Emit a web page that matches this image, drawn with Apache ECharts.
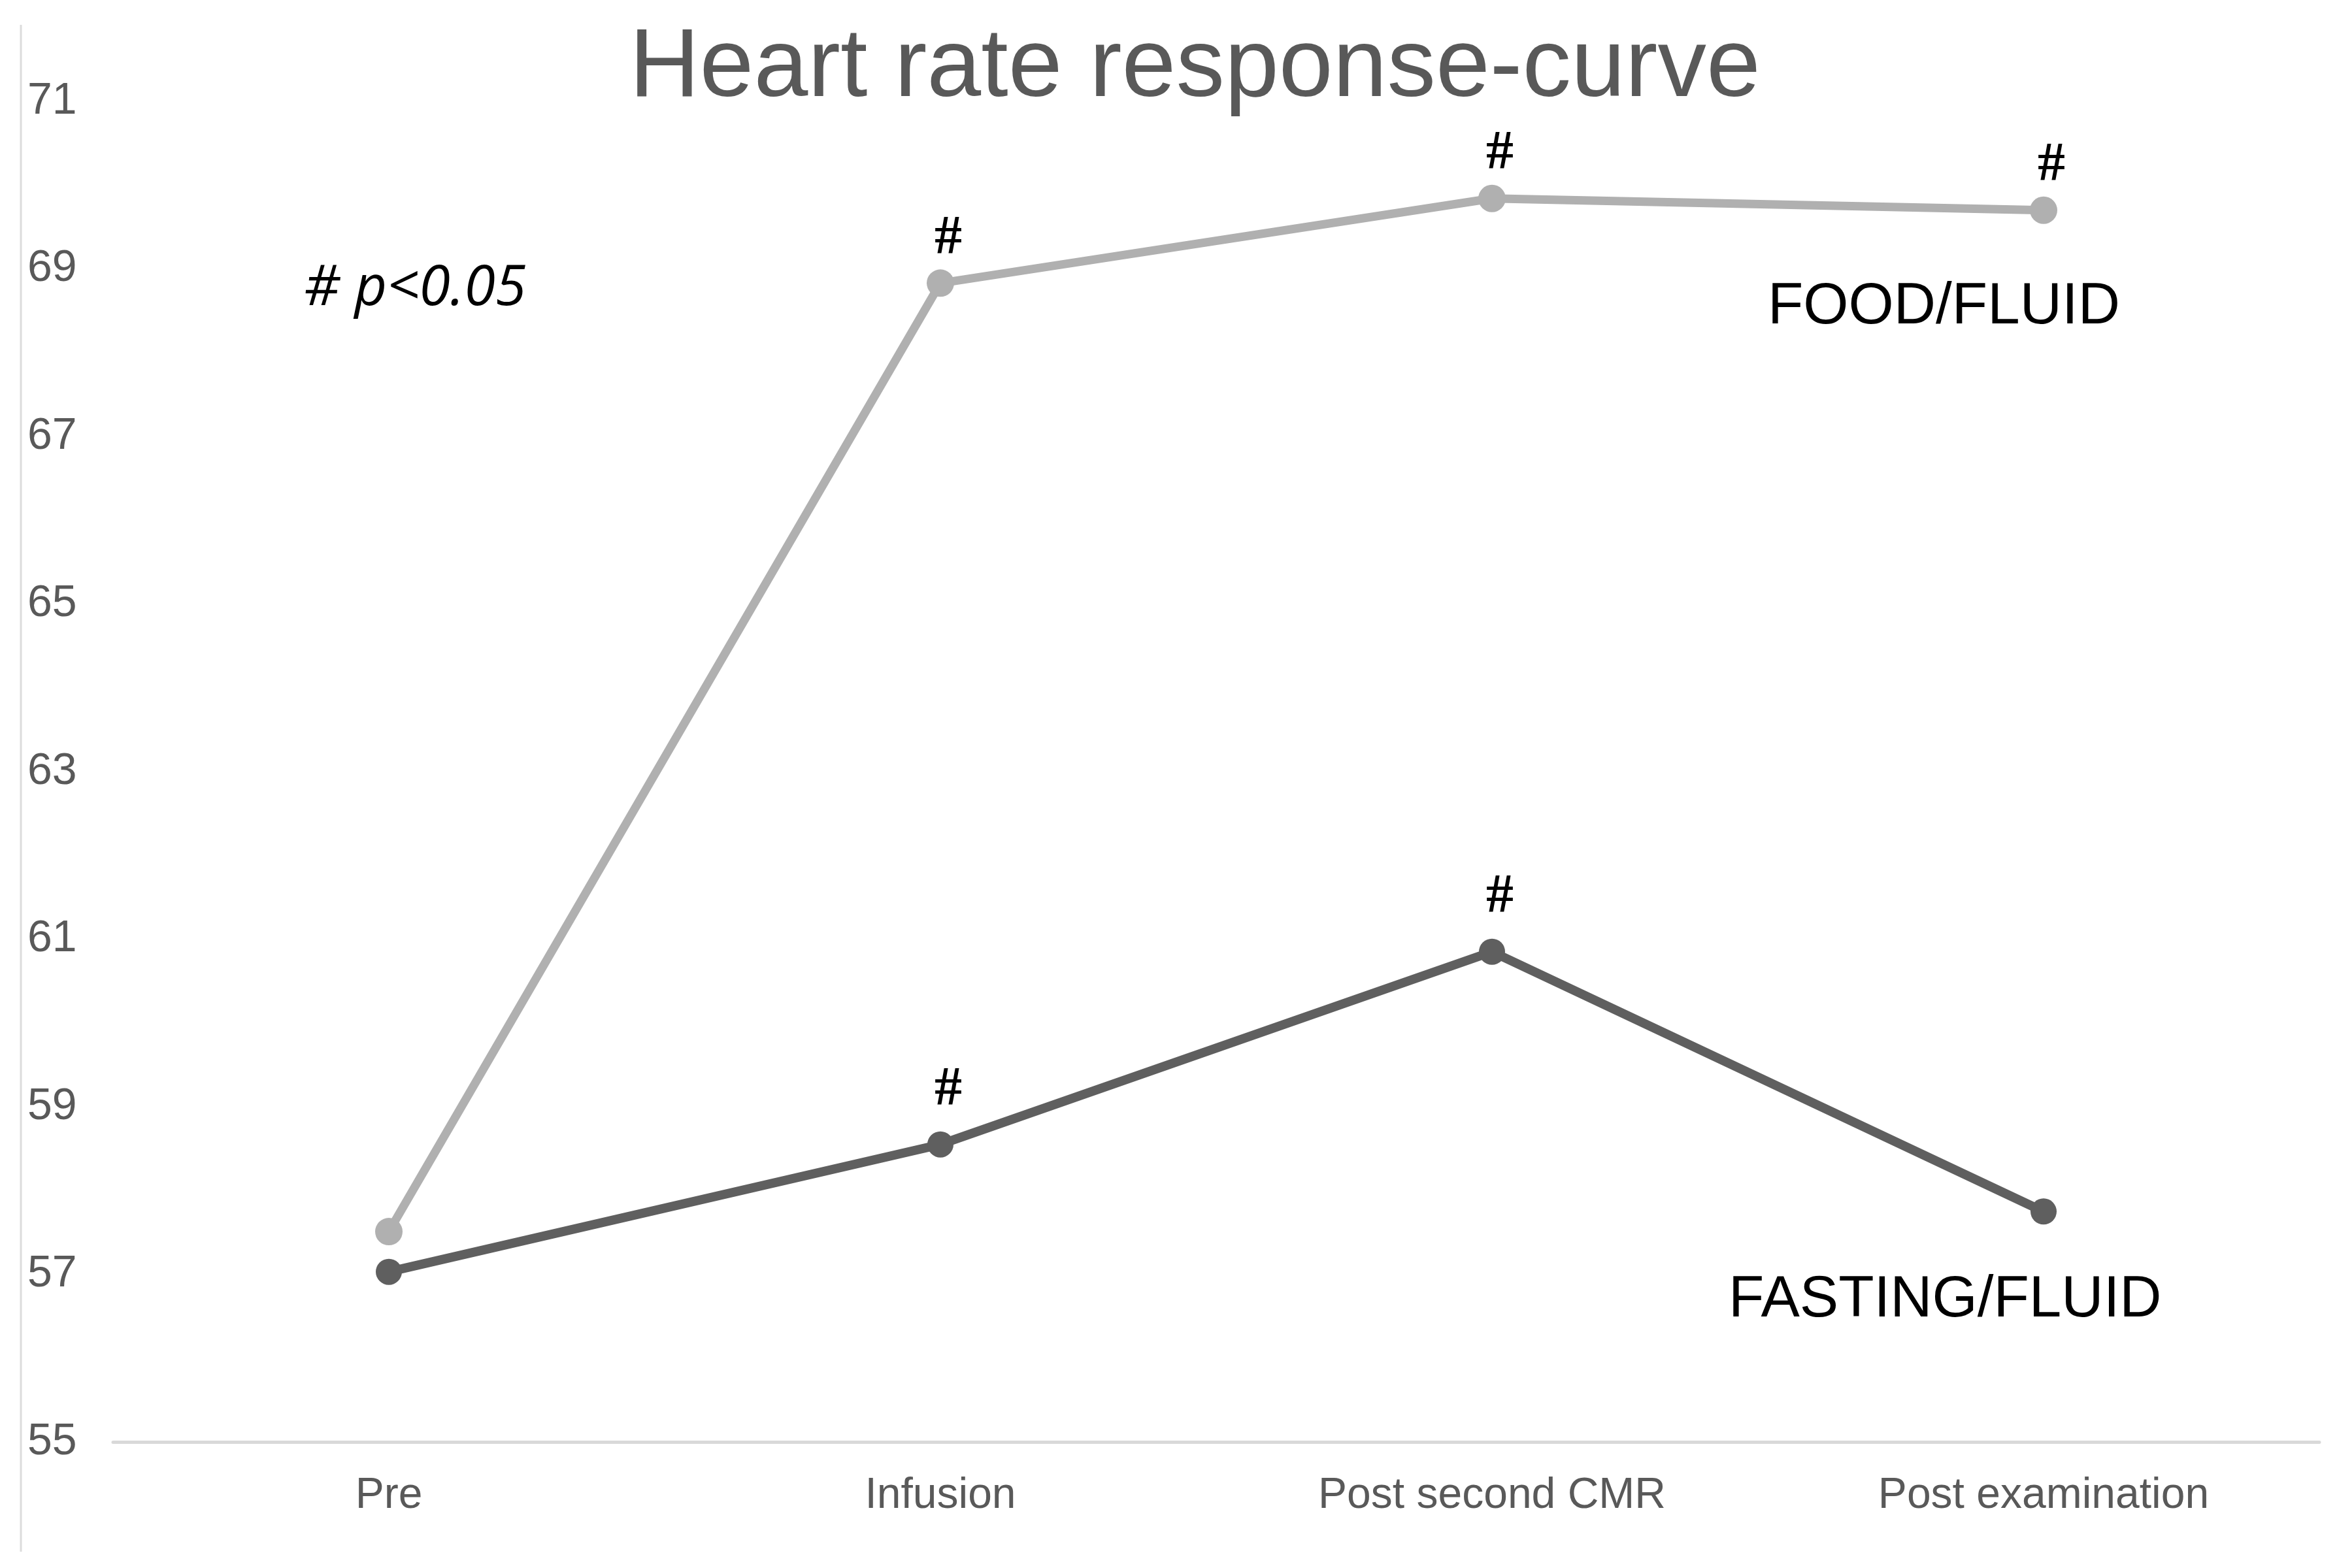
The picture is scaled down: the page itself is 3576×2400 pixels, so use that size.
<!DOCTYPE html>
<html>
<head>
<meta charset="utf-8">
<script src="https://cdn.jsdelivr.net/npm/echarts@6/dist/echarts.min.js"></script>
<style>
html,body{margin:0;padding:0;background:#fff;}
#chart{width:3576px;height:2400px;}
</style>
</head>
<body>
<div id="chart"></div>
<script>
const categories = ['Pre', 'Infusion', 'Post second CMR', 'Post examination'];
const foodFluid = [57.51, 68.83, 69.84, 69.70];
const fastingFluid = [57.03, 58.55, 60.85, 57.75];
const foodSignificant = [false, true, true, true];
const fastingSignificant = [false, true, true, false];
const yTicks = { min: 55, max: 71, interval: 2 };
const titleText = 'Heart rate response-curve';
const noteText = '# p<0.05';
const foodName = 'FOOD/FLUID';
const fastingName = 'FASTING/FLUID';

const chart = echarts.init(document.getElementById('chart'), null, { renderer: 'canvas' });

function sigLabel(flags, offset) {
  return {
    show: true,
    position: 'inside',
    offset: offset,
    formatter: p => flags[p.dataIndex] ? '#' : '',
    color: '#000',
    fontFamily: 'Liberation Serif',
    fontWeight: 'bold',
    fontSize: 84
  };
}

const option = {
  backgroundColor: '#ffffff',
  animation: false,
  title: {
    text: titleText,
    left: 958,
    top: 26,
    textStyle: { fontFamily: 'Liberation Sans', fontWeight: 'normal', fontSize: 149, color: '#595959' }
  },
  grid: { left: 173, right: 27, top: 155, bottom: 193, containLabel: false },
  xAxis: {
    type: 'category',
    data: categories,
    boundaryGap: true,
    axisLine: { show: true, lineStyle: { color: '#d9d9d9', width: 5 } },
    axisTick: { show: false },
    axisLabel: { color: '#595959', fontFamily: 'Liberation Sans', fontSize: 66, margin: 50 },
    splitLine: { show: false }
  },
  yAxis: {
    type: 'value',
    min: yTicks.min,
    max: yTicks.max,
    interval: yTicks.interval,
    axisLine: { show: false },
    axisTick: { show: false },
    splitLine: { show: false },
    axisLabel: { color: '#595959', fontFamily: 'Liberation Sans', fontSize: 68, align: 'left', margin: 131 }
  },
  series: [
    {
      name: foodName,
      type: 'line',
      data: foodFluid,
      symbol: 'circle',
      symbolSize: 42,
      lineStyle: { color: '#b0b0b0', width: 13 },
      itemStyle: { color: '#b0b0b0' },
      label: sigLabel(foodSignificant, [12, -67]),
      z: 3
    },
    {
      name: fastingName,
      type: 'line',
      data: fastingFluid,
      symbol: 'circle',
      symbolSize: 40,
      lineStyle: { color: '#5f5f5f', width: 14 },
      itemStyle: { color: '#5f5f5f' },
      label: sigLabel(fastingSignificant, [12, -82]),
      z: 4
    }
  ],
  graphic: [
    { type: 'line', shape: { x1: 32, y1: 38, x2: 32, y2: 2375 }, style: { stroke: '#dcdcdc', lineWidth: 3 } },
    { type: 'text', x: 465, y: 442, style: { text: noteText, font: 'italic 86px "Open Sans"', fill: '#000', verticalAlign: 'middle', align: 'left' } },
    { type: 'text', x: 2705, y: 470, style: { text: foodName, font: '89px "Liberation Sans"', fill: '#000', verticalAlign: 'middle', align: 'left' } },
    { type: 'text', x: 2645, y: 1990, style: { text: fastingName, font: '89px "Liberation Sans"', fill: '#000', verticalAlign: 'middle', align: 'left' } }
  ]
};
chart.setOption(option);
</script>
</body>
</html>
